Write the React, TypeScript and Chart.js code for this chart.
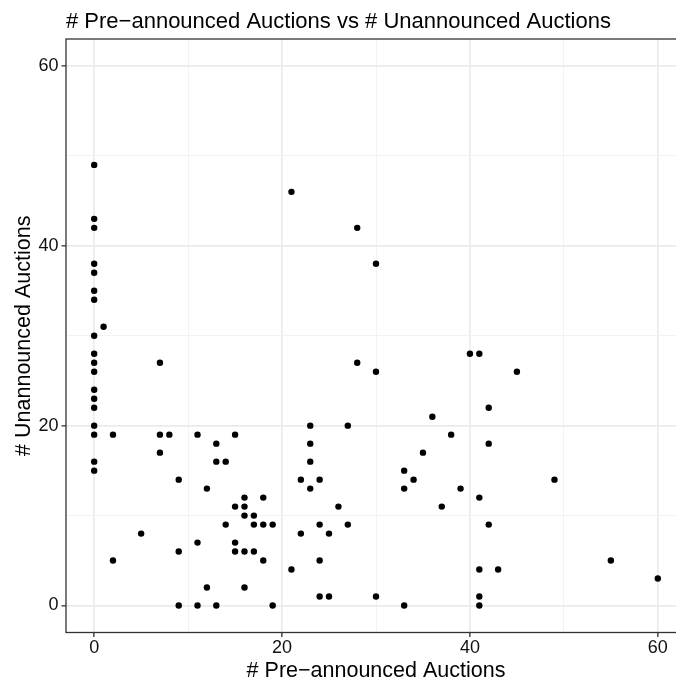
import React, { useEffect, useRef } from "react";
import { Chart, registerables } from "chart.js";

Chart.register(...registerables);

const TITLE = "# Pre\u2212announced Auctions vs # Unannounced Auctions";
const X_TITLE = "# Pre\u2212announced Auctions";
const Y_TITLE = "# Unannounced Auctions";

const X_TICKS = [0, 10, 20, 30, 40, 50, 60];
const Y_TICKS = [0, 10, 20, 30, 40, 50, 60];

// # Pre-announced auctions (x) for each observation
const preAnnounced = [
  0, 0, 0, 0, 0, 0, 0, 0, 0, 0, 0, 0, 0, 0, 0, 0, 0, 0,
  1, 2, 2, 5, 7, 7, 7, 8, 9, 9, 9,
  11, 11, 11, 12, 12, 13, 13, 13, 14, 14,
  15, 15, 15, 15, 16, 16, 16, 16, 16, 17, 17, 17, 18, 18, 18, 19, 19,
  21, 21, 22, 22, 23, 23, 23, 23, 24, 24, 24, 24, 25, 25, 26, 27, 27,
  28, 28, 30, 30, 30, 33, 33, 33, 34, 35, 36, 37, 38, 39, 40,
  41, 41, 41, 41, 41, 42, 42, 42, 43, 45, 49, 55, 60,
];

// # Unannounced auctions (y) for each observation
const unannounced = [
  49, 43, 42, 38, 37, 35, 34, 30, 28, 27, 26, 24, 23, 22, 20, 19, 16, 15,
  31, 19, 5, 8, 27, 19, 17, 19, 14, 6, 0,
  19, 7, 0, 13, 2, 18, 16, 0, 16, 9,
  19, 11, 7, 6, 12, 11, 10, 6, 2, 10, 9, 6, 12, 9, 5, 9, 0,
  46, 4, 14, 8, 20, 18, 16, 13, 14, 9, 5, 1, 8, 1, 11, 20, 9,
  42, 27, 38, 26, 1, 15, 13, 0, 14, 17, 21, 11, 19, 13, 28,
  28, 12, 4, 1, 0, 22, 18, 9, 4, 26, 14, 5, 3,
];

const FONT = '"Liberation Sans", Arial, Helvetica, sans-serif';

const majorColor = "#EBEBEB";
const minorColor = "#F2F2F2";

const panelPlugin = {
  id: "panelAndTexts",
  afterDatasetsDraw(chart: any) {
    const { ctx, chartArea } = chart;
    const { left, right, top, bottom } = chartArea;
    ctx.save();
    ctx.strokeStyle = "#333333";
    ctx.lineWidth = 1.3;
    ctx.strokeRect(left, top, right - left, bottom - top);
    ctx.restore();
  },
  afterDraw(chart: any) {
    const { ctx, chartArea } = chart;
    const { left, right, top, bottom } = chartArea;
    ctx.save();
    ctx.fillStyle = "#000000";
    ctx.textAlign = "left";
    ctx.textBaseline = "alphabetic";
    ctx.font = `22px ${FONT}`;
    ctx.fillText(TITLE, left, 28);

    ctx.font = `21.5px ${FONT}`;
    ctx.textAlign = "center";
    ctx.fillText(X_TITLE, (left + right) / 2, 677);

    ctx.translate(30, (top + bottom) / 2);
    ctx.rotate(-Math.PI / 2);
    ctx.fillText(Y_TITLE, 0, 0);
    ctx.restore();
  },
};

function gridFor() {
  return {
    color: (c: any) =>
      c.tick && c.tick.value % 20 === 0 ? majorColor : minorColor,
    lineWidth: (c: any) => (c.tick && c.tick.value % 20 === 0 ? 1.7 : 0.9),
    tickColor: (c: any) =>
      c.tick && c.tick.value % 20 === 0 ? "#333333" : "rgba(0,0,0,0)",
    tickWidth: 1.3,
    tickLength: 4.5,
    drawTicks: true,
    drawOnChartArea: true,
  };
}

export default function App() {
  const canvasRef = useRef<HTMLCanvasElement | null>(null);

  useEffect(() => {
    const canvas = canvasRef.current;
    if (!canvas) return;
    const points = preAnnounced.map((x, i) => ({ x, y: unannounced[i] }));
    const chart = new Chart(canvas, {
      type: "scatter",
      data: {
        datasets: [
          {
            data: points,
            backgroundColor: "#000000",
            borderWidth: 0,
            pointRadius: 3.2,
            pointHoverRadius: 3.2,
          },
        ],
      },
      options: {
        animation: false,
        responsive: false,
        devicePixelRatio: 1,
        layout: { padding: { left: 0, right: 14, top: 39, bottom: 0 } },
        plugins: {
          legend: { display: false },
          tooltip: { enabled: false },
          title: { display: false },
        },
        scales: {
          x: {
            type: "linear",
            position: "bottom",
            min: -3,
            max: 63,
            afterBuildTicks: (s: any) => {
              s.ticks = X_TICKS.map((v) => ({ value: v }));
            },
            afterFit: (s: any) => {
              s.height = 50.5;
            },
            ticks: {
              autoSkip: false,
              maxRotation: 0,
              padding: 0.5,
              color: "#111111",
              font: { size: 18, family: FONT },
              callback: (v: any) => (Number(v) % 20 === 0 ? String(v) : ""),
            },
            grid: gridFor(),
            border: { display: false },
          },
          y: {
            type: "linear",
            position: "left",
            min: -3,
            max: 63,
            afterBuildTicks: (s: any) => {
              s.ticks = Y_TICKS.map((v) => ({ value: v }));
            },
            afterFit: (s: any) => {
              s.width = 66;
            },
            ticks: {
              autoSkip: false,
              padding: 3,
              color: "#111111",
              font: { size: 18, family: FONT },
              callback: (v: any) => (Number(v) % 20 === 0 ? String(v) : ""),
            },
            grid: gridFor(),
            border: { display: false },
          },
        },
      },
      plugins: [panelPlugin],
    } as any);
    return () => chart.destroy();
  }, []);

  return (
    <div
      style={{
        position: "fixed",
        left: 0,
        top: 0,
        width: 676,
        height: 683,
        overflow: "hidden",
        background: "#ffffff",
      }}
    >
      <canvas
        ref={canvasRef}
        width={700}
        height={683}
        style={{ width: 700, height: 683, display: "block" }}
      />
    </div>
  );
}
